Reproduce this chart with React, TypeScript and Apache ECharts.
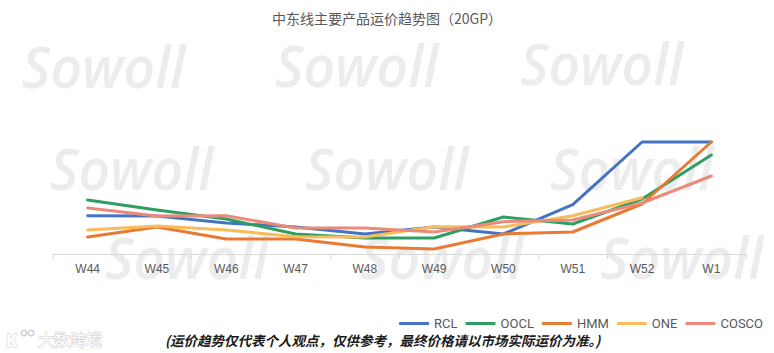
import React, { useEffect, useRef } from "react";
import * as echarts from "echarts";

const weeks = ["W44", "W45", "W46", "W47", "W48", "W49", "W50", "W51", "W52", "W1"];
const rcl = [383, 380, 310, 270, 200, 270, 200, 493, 1120, 1120];
const oocl = [540, 440, 350, 200, 160, 160, 370, 300, 550, 990];
const hmm = [170, 270, 150, 150, 70, 50, 200, 220, 500, 1120];
const one = [240, 280, 240, 173, 170, 273, 270, 383, 563, null];
const cosco = [460, 380, 383, 260, 260, 220, 323, 340, 510, 780];

const seriesNames = ["RCL", "OOCL", "HMM", "ONE", "COSCO"];
const seriesData = [rcl, oocl, hmm, one, cosco];
const colors = ["#4472C4", "#2E9E63", "#E97A32", "#F9BB5B", "#EB8A78"];

const titleText = "中东线主要产品运价趋势图（20GP）";
const noteText = "(运价趋势仅代表个人观点，仅供参考，最终价格请以市场实际运价为准。)";
const watermark = "Sowoll";
const logoText = "大数跨境";

const wmPositions: [number, number][] = [
  [22, 37], [275, 36], [520, 34],
  [50, 139], [305, 139], [550, 139],
  [105, 228], [360, 228], [600, 228],
];

export default function App() {
  const ref = useRef<HTMLDivElement>(null);
  useEffect(() => {
    if (!ref.current) return;
    const chart = echarts.init(ref.current, null, { renderer: "svg" });
    const graphics: any[] = wmPositions.map(([x, y]) => ({
      type: "text",
      x,
      y,
      z: -10,
      scaleX: 0.95,
      silent: true,
      style: {
        text: watermark,
        fill: "#ececec",
        font: "italic 600 58px 'Open Sans'",
        textAlign: "left",
        verticalAlign: "top",
      },
    }));
    graphics.push({
      type: "text",
      x: 165,
      y: 340,
      style: {
        text: noteText,
        fill: "#1a1a1a",
        font: "italic bold 13.5px 'Noto Sans CJK SC'",
        verticalAlign: "middle",
      },
    });
    graphics.push({
      type: "text",
      x: 38,
      y: 339,
      style: {
        text: logoText,
        fill: "#ffffff",
        stroke: "#cdcdcd",
        lineWidth: 1,
        font: "16px 'Noto Sans CJK SC'",
        verticalAlign: "middle",
      },
    });
    graphics.push({
      type: "text",
      x: 6,
      y: 340,
      style: {
        text: "K",
        fill: "#ffffff",
        stroke: "#cdcdcd",
        lineWidth: 1,
        font: "bold 17px 'Open Sans'",
        verticalAlign: "middle",
      },
    });
    graphics.push({
      type: "ring",
      shape: { cx: 24, cy: 333, r: 3.5, r0: 2 },
      style: { fill: "#cdcdcd" },
    });
    graphics.push({
      type: "ring",
      shape: { cx: 31, cy: 333, r: 3.5, r0: 2 },
      style: { fill: "#cdcdcd" },
    });

    chart.setOption({
      animation: false,
      title: {
        text: titleText,
        left: "center",
        top: 6,
        textStyle: {
          fontSize: 14,
          fontWeight: "normal",
          color: "#595959",
          fontFamily: "'Noto Sans CJK SC', sans-serif",
        },
      },
      legend: {
        right: 6,
        top: 312,
        icon: "roundRect",
        itemWidth: 30,
        itemHeight: 3,
        itemGap: 8,
        textStyle: { fontSize: 13, color: "#595959", fontFamily: "Roboto, sans-serif" },
        data: seriesNames,
      },
      grid: { left: 53, right: 28, top: 114, bottom: 99 },
      xAxis: {
        type: "category",
        data: weeks,
        boundaryGap: true,
        axisLine: { lineStyle: { color: "#d9d9d9", width: 1 } },
        axisTick: { show: true, length: 5, lineStyle: { color: "#d9d9d9" } },
        axisLabel: { color: "#595959", fontSize: 12, margin: 9, fontFamily: "'Liberation Sans', Arial, sans-serif" },
      },
      yAxis: {
        type: "value",
        min: 0,
        max: 1400,
        show: false,
        splitLine: { show: false },
      },
      graphic: graphics,
      series: seriesData.map((d, i) => ({
        name: seriesNames[i],
        type: "line",
        data: d,
        symbol: "none",
        z: 3 + i,
        lineStyle: { width: 3, color: colors[i], cap: "round", join: "round" },
        itemStyle: { color: colors[i] },
      })),
    });
    return () => chart.dispose();
  }, []);
  return (
    <div
      ref={ref}
      style={{ position: "fixed", left: 0, top: 0, width: 774, height: 353, background: "#fff" }}
    />
  );
}
